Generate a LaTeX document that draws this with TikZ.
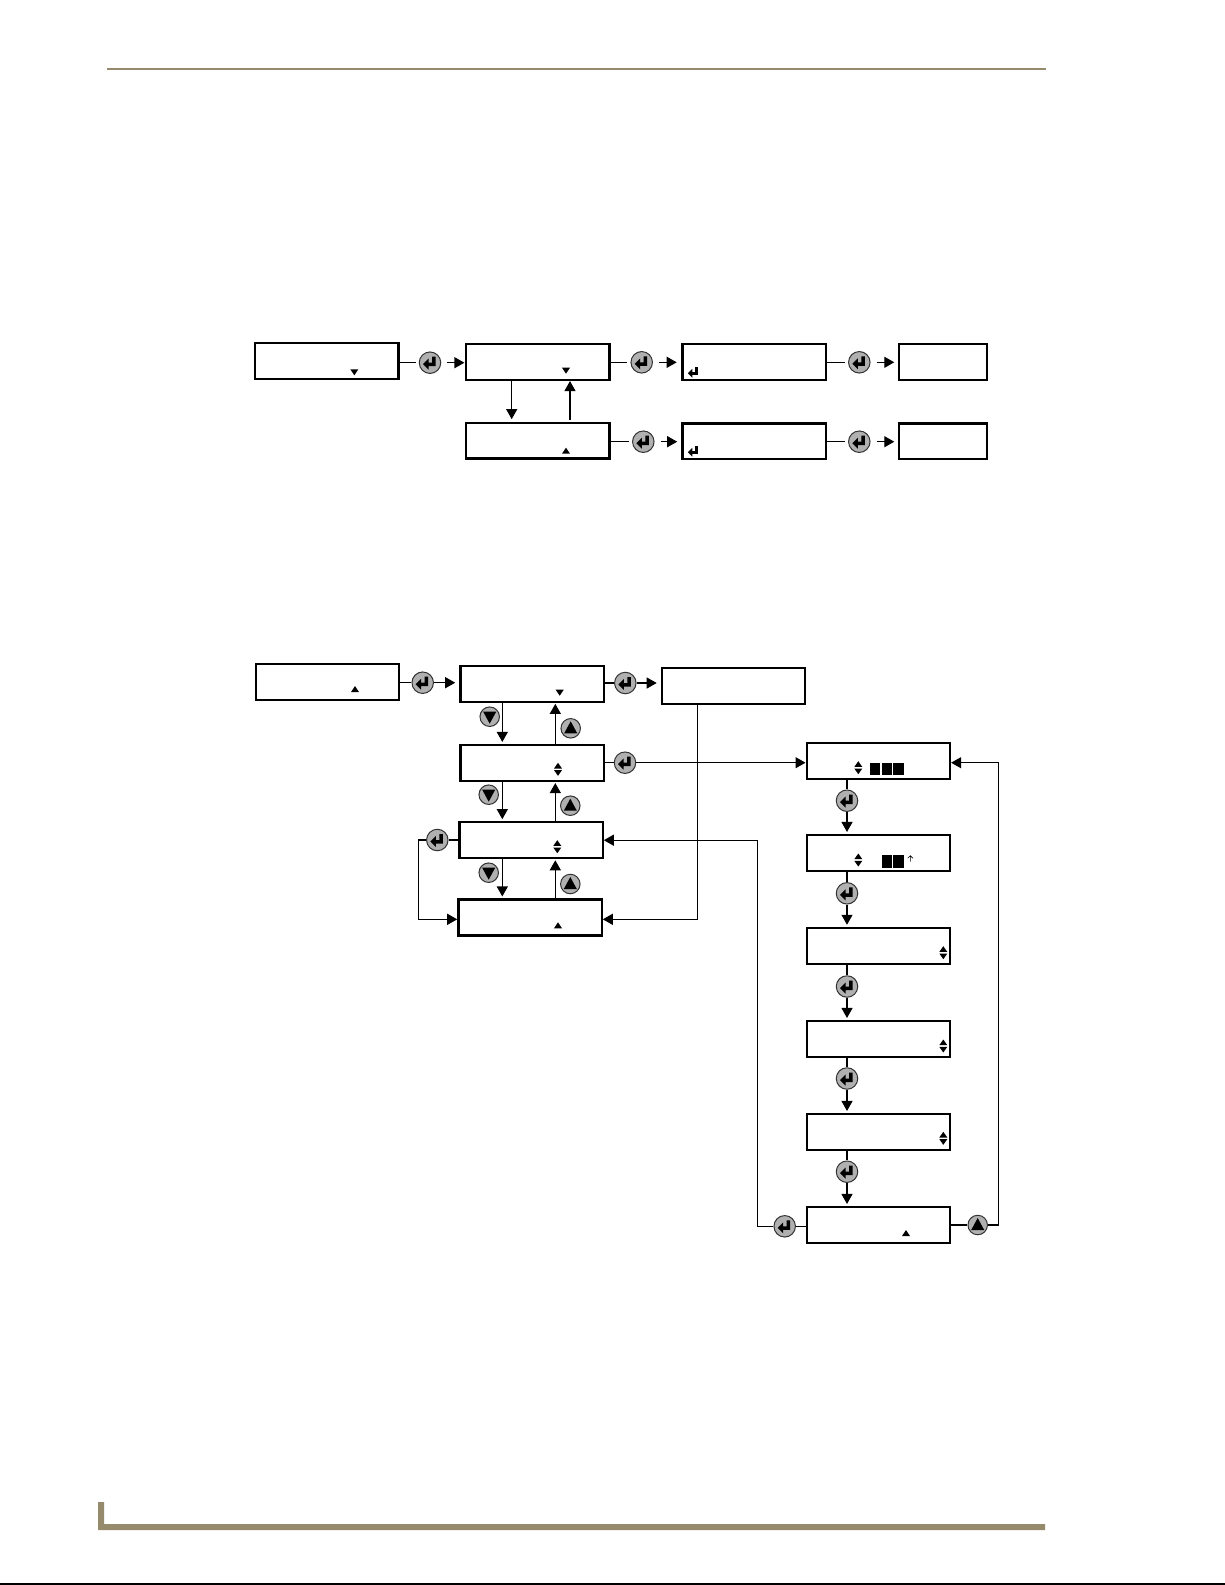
\documentclass[tikz,border=0pt]{standalone}
\usepackage{amsmath}
\usepackage{tikz}
\usetikzlibrary{arrows.meta}
\definecolor{rulegold}{HTML}{958A6C}
\definecolor{keygray}{HTML}{B0B0B0}

\begin{document}
\begin{tikzpicture}[x=1pt,y=-1pt]
  \tikzset{lcd/.style = {shape=rectangle,draw,line width=2.3pt,minimum width=143.3pt,minimum height=35.8pt,inner sep=0pt}}
  \tikzset{lcdshort/.style = {lcd,minimum width=87.7pt}}
  \tikzset{keybtn/.style = {shape=circle,draw=black!80,fill=keygray,line width=1pt,inner sep=0pt}}
  \tikzset{enterkey/.style = {keybtn,minimum size=21.5pt}}
  \tikzset{downkey/.style = {keybtn,minimum size=19.5pt}}
  \tikzset{upkey/.style = {keybtn,minimum size=19.5pt}}
  \tikzset{wire/.style = {line width=1.2pt}}
  \tikzset{tip/.style = {wire,-{Triangle[length=10pt,width=11pt]}}}
  \tikzset{retglyph/.pic = {\fill (-7,1.5) -- (-1.5,-4) -- (-1.5,0) -- (2,0) -- (2,-6) -- (5.5,-6) -- (5.5,3.5) -- (-1.5,3.5) -- (-1.5,7) -- cycle;}}
  \tikzset{bigdown/.pic = {\fill (-6.5,-5) -- (6.5,-5) -- (0,7) -- cycle;}}
  \tikzset{bigup/.pic = {\fill (-6.5,5) -- (6.5,5) -- (0,-7) -- cycle;}}
  \tikzset{smalldown/.pic = {\fill (-4,-3) -- (4,-3) -- (0,3) -- cycle;}}
  \tikzset{smallup/.pic = {\fill (-4,3) -- (4,3) -- (0,-3) -- cycle;}}
  \tikzset{updown/.pic = {\fill (-4,-.8) -- (4,-.8) -- (0,-6.5) -- cycle; \fill (-4,.8) -- (4,.8) -- (0,6.5) -- cycle;}}
  \tikzset{thinup/.pic = {\draw[line width=.6pt] (0,3) -- (0,-3) (-2.5,-.5) -- (0,-3) -- (2.5,-.5);}}

  \useasboundingbox (0,0) rectangle (1225,1585);

  % page rules
  \draw[rulegold,line width=2pt] (107,69) -- (1046,69);
  \fill[rulegold] (98,1502) rectangle (104,1530) (98,1524) rectangle (1045,1530);
  \draw[line width=1.5pt] (0,1584.2) -- (1225,1584.2);

  % upper chart
  \node[lcd] (A) at (326.7,361.2) {};
  \node[lcd] (B) at (537.7,362) {};
  \node[lcd] (C) at (537.7,440.7) {};
  \node[lcd] (Ga) at (754,362) {};
  \node[lcd] (Gb) at (754,441.3) {};
  \node[lcdshort] (Ha) at (942.8,362) {};
  \node[lcdshort] (Hb) at (942.8,441.3) {};

  \node[enterkey] (bA) at (430,362.7) {};
  \node[enterkey] (bB) at (641.7,362.3) {};
  \node[enterkey] (bC) at (643.3,441.7) {};
  \node[enterkey] (bGa) at (859.3,362.3) {};
  \node[enterkey] (bGb) at (859.3,441.7) {};

  \foreach \from/\key/\to/\gapr in {A/bA/B/0.5pt, B/bB/Ga/4.5pt, C/bC/Gb/4pt, Ga/bGa/Ha/3.5pt, Gb/bGb/Hb/3.5pt}{
    \draw[wire,shorten >=3pt] (\from.east |- \key) -- (\key);
    \draw[tip,shorten <=6pt,shorten >=\gapr] (\key) -- (\key -| \to.west);
  }
  \coordinate (dnA) at (511.7,0);
  \coordinate (upA) at (570,0);
  \draw[tip,shorten >=2.5pt] (dnA |- B.south) -- (dnA |- C.north);
  \draw[tip,shorten <=2pt] (upA |- C.north) -- (upA |- B.south);

  % lower chart
  \node[lcd] (S) at (327.5,682) {};
  \node[lcd] (Da) at (532,683.8) {};
  \node[lcd] (Db) at (532,763) {};
  \node[lcd] (Dc) at (531,840.2) {};
  \node[lcd] (Dd) at (530,917.5) {};
  \node[lcd] (E) at (733.5,685.8) {};
  \foreach \n/\y in {a/761.2, b/853, c/945.8, d/1039, e/1132, f/1225}
    \node[lcd] (F\n) at (878.3,\y) {};

  \node[enterkey] (bS) at (422.7,682.7) {};
  \node[enterkey] (bDa) at (625.3,683) {};
  \node[enterkey] (bDb) at (625,762.7) {};
  \node[enterkey] (bDc) at (437.3,840) {};
  \foreach \n/\y in {a/800.7, b/893.3, c/986.5, d/1078.5, e/1171.7}
    \node[enterkey] (bF\n) at (847,\y) {};
  \node[enterkey] (bFf) at (784.7,1226.3) {};
  \node[upkey] (bUp) at (977.7,1225) {};

  \foreach \n/\x/\y in {a/489.7/716.7, b/488.7/794.7, c/488.7/872.7}
    \node[downkey] (kd\n) at (\x,\y) {};
  \foreach \n/\x/\y in {a/570.7/728.3, b/570.3/805.7, c/570.3/884}
    \node[upkey] (ku\n) at (\x,\y) {};

  \foreach \key in {bA,bB,bC,bGa,bGb,bS,bDa,bDb,bDc,bFa,bFb,bFc,bFd,bFe,bFf}
    \pic at (\key) {retglyph};
  \foreach \key in {kda,kdb,kdc}
    \pic at (\key) {bigdown};
  \foreach \key in {kua,kub,kuc,bUp}
    \pic at (\key) {bigup};

  \foreach \from/\key/\to in {S/bS/Da, Da/bDa/E}{
    \draw[wire] (\from.east |- \key) -- (\key);
    \draw[tip,shorten >=4pt] (\key) -- (\key -| \to.west);
  }
  \coordinate (dnD) at (502.3,0);
  \coordinate (upD) at (555.3,0);
  \foreach \from/\to in {Da/Db, Db/Dc, Dc/Dd}{
    \draw[tip,shorten >=2pt] (dnD |- \from.south) -- (dnD |- \to.north);
    \draw[tip,shorten >=1pt] (upD |- \to.north) -- (upD |- \from.south);
  }
  \draw[wire] (Db.east |- bDb) -- (bDb);
  \draw[tip] (bDb) -- (bDb -| Fa.west);
  \foreach \from/\key/\to in {Fa/bFa/Fb, Fb/bFb/Fc, Fc/bFc/Fd, Fd/bFd/Fe, Fe/bFe/Ff}{
    \draw[wire] (\key |- \from.south) -- (\key);
    \draw[tip,shorten >=2pt] (\key) -- (\key |- \to.north);
  }

  \coordinate (dropE) at (697.3,919.3);
  \coordinate (loopD) at (418.3,0);
  \coordinate (backD) at (757.3,0);
  \coordinate (backF) at (998.3,0);
  \draw[tip] (dropE |- E.south) -- (dropE) -- (dropE -| Dd.east);
  \draw[wire] (Dc.west |- bDc) -- (bDc);
  \draw[tip] (bDc) -- (loopD |- bDc) -- (loopD |- dropE) -- (dropE -| Dd.west);
  \draw[wire] (Ff.west |- bFf) -- (bFf);
  \draw[tip] (bFf) -- (backD |- bFf) -- (backD |- Dc.east) -- (Dc.east);
  \draw[wire] (Ff.east |- bUp) -- (bUp);
  \draw[tip] (bUp) -- (backF |- bUp) -- (backF |- bDb) -- (bDb -| Fa.east);

  % display marks
  \foreach \x/\y in {354.3/372.3, 566/370.7, 559.7/692.7}
    \pic at (\x,\y) {smalldown};
  \foreach \x/\y in {566/450.7, 355/689, 558/925.3, 906/1233}
    \pic at (\x,\y) {smallup};
  \foreach \x/\y in {558/769.3, 557.3/846.7, 858.3/767.7, 858.3/860, 943.3/952.7, 943.3/1046, 943.3/1138.3}
    \pic at (\x,\y) {updown};
  \foreach \y in {372, 451}
    \pic[scale=.8] at (693.5,\y) {retglyph};
  \foreach \x in {870, 881.7, 893.4}
    \fill (\x,763.3) rectangle ++(10.4,11.7);
  \foreach \x in {881.7, 893.4}
    \fill (\x,855) rectangle ++(10.4,12.7);
  \pic at (910.3,858.7) {thinup};
\end{tikzpicture}
\end{document}
